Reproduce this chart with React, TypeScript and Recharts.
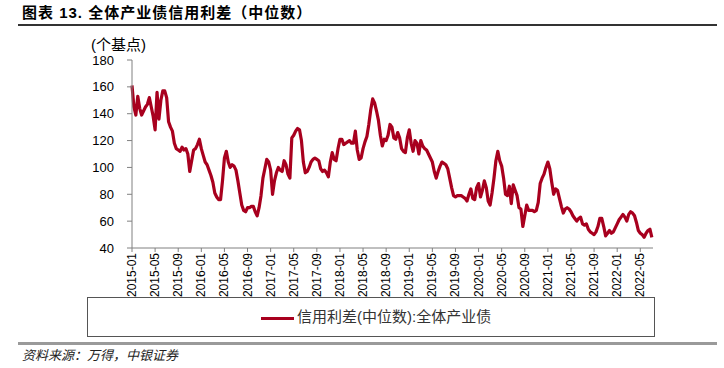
import { LineChart, Line, XAxis, YAxis } from "recharts";

const title = "图表 13. 全体产业债信用利差（中位数）";
const unitLabel = "(个基点)";
const seriesName = "信用利差(中位数):全体产业债";
const sourceNote = "资料来源：万得，中银证券";

// 2015-01 起，每月三个观测点（上、中、下旬），单位：个基点
const spreadValues = [
  161, 145, 139, 153, 144, 139, 142, 145, 147, 152, 145, 138,
  128, 156, 136, 150, 157, 157, 152, 134, 130, 127, 118, 114,
  113, 112, 115, 113, 114, 110, 97, 105, 113, 114, 117, 121,
  114, 109, 104, 102, 98, 94, 89, 81, 78, 76, 76, 90,
  107, 112, 104, 100, 102, 101, 98, 90, 81, 72, 68, 67,
  70, 70, 71, 71, 67, 64, 70, 79, 92, 99, 106, 104,
  98, 80, 90, 96, 100, 98, 97, 105, 102, 95, 92, 122,
  124, 127, 129, 128, 120, 104, 96, 97, 100, 104, 106, 107,
  106, 105, 99, 97, 98, 96, 93, 104, 111, 106, 105, 114,
  121, 121, 117, 118, 119, 120, 118, 118, 127, 113, 106, 107,
  114, 119, 123, 132, 143, 151, 148, 142, 135, 124, 116, 121,
  120, 124, 132, 130, 122, 121, 126, 122, 114, 112, 111, 122,
  128, 118, 112, 120, 118, 110, 120, 116, 114, 113, 110, 107,
  104, 97, 92, 97, 101, 104, 103, 102, 99, 92, 85, 79,
  78, 79, 79, 79, 78, 77, 75, 80, 84, 77, 76, 85,
  88, 78, 83, 90, 85, 75, 72, 81, 92, 105, 112, 105,
  101, 92, 80, 79, 86, 73, 87, 83, 79, 70, 69, 56,
  64, 72, 68, 68, 68, 67, 68, 74, 88, 92, 95, 100,
  104, 99, 89, 80, 84, 83, 77, 71, 66, 69, 70, 69,
  67, 64, 62, 60, 62, 63, 58, 57, 58, 54, 52, 51,
  50, 52, 56, 62, 62, 56, 49, 51, 53, 51, 52, 55,
  58, 61, 63, 65, 63, 60, 65, 67, 66, 64, 59, 53,
  51, 50, 48, 51, 53, 54, 48,
];

const tickLabels = [
  "2015-01", "2015-05", "2015-09", "2016-01", "2016-05", "2016-09",
  "2017-01", "2017-05", "2017-09", "2018-01", "2018-05", "2018-09",
  "2019-01", "2019-05", "2019-09", "2020-01", "2020-05", "2020-09",
  "2021-01", "2021-05", "2021-09", "2022-01", "2022-05",
];

const yTicks = [40, 60, 80, 100, 120, 140, 160, 180];

const lineColor = "#A8001E";
const axisColor = "#808080";
const latin = "'Liberation Sans', Arial, sans-serif";
const cjk = "'Liberation Sans', 'Noto Sans CJK SC', sans-serif";

const chartData = spreadValues.map((v, i) => ({ t: i / 3, spread: v }));
const monthTicks = tickLabels.map((_, i) => i * 4);

function MonthTick({ x, y, payload }: any) {
  return (
    <text
      x={x}
      y={y}
      transform={`rotate(-90, ${x}, ${y})`}
      textAnchor="end"
      dominantBaseline="central"
      fontSize={12}
      fontFamily={latin}
      fill="#000"
    >
      {tickLabels[Math.round(payload.value / 4)]}
    </text>
  );
}

export default function App() {
  return (
    <div
      style={{
        position: "absolute",
        left: 0,
        top: 0,
        width: 724,
        height: 368,
        background: "#fff",
        fontFamily: cjk,
        color: "#000",
      }}
    >
      <div
        style={{
          position: "absolute",
          left: 22,
          top: 3,
          fontSize: 15,
          lineHeight: "20px",
          fontWeight: 700,
          letterSpacing: 1,
          whiteSpace: "nowrap",
        }}
      >
        {title}
      </div>
      <div style={{ position: "absolute", left: 18, top: 24, width: 699, height: 1.5, background: "#333" }} />

      <div style={{ position: "absolute", left: 91, top: 35, fontSize: 15, lineHeight: "20px", whiteSpace: "nowrap" }}>
        {unitLabel}
      </div>

      <div style={{ position: "absolute", left: 0, top: 0 }}>
        <LineChart width={724} height={300} data={chartData} margin={{ top: 60, right: 71, left: 0, bottom: 0 }}>
          <XAxis
            dataKey="t"
            type="number"
            domain={[0, 90.2]}
            ticks={monthTicks}
            interval={0}
            height={52}
            tickSize={4}
            tickMargin={1}
            stroke={axisColor}
            tick={<MonthTick />}
          />
          <YAxis
            type="number"
            domain={[40, 180]}
            ticks={yTicks}
            width={132}
            tickSize={5}
            tickMargin={13}
            stroke={axisColor}
            tick={{ fontSize: 13, fill: "#000", fontFamily: latin }}
          />
          <Line
            type="linear"
            dataKey="spread"
            name={seriesName}
            stroke={lineColor}
            strokeWidth={3.2}
            strokeLinejoin="round"
            dot={false}
            isAnimationActive={false}
          />
        </LineChart>
      </div>

      <div
        style={{
          position: "absolute",
          left: 87,
          top: 297,
          width: 566,
          height: 38,
          border: "1px solid #555",
        }}
      >
        <div style={{ position: "absolute", left: 173, top: 18.5, width: 33, height: 3, background: lineColor }} />
        <div
          style={{
            position: "absolute",
            left: 209,
            top: 9,
            fontSize: 15,
            lineHeight: "20px",
            whiteSpace: "nowrap",
            color: "#333",
          }}
        >
          {seriesName}
        </div>
      </div>

      <div style={{ position: "absolute", left: 18, top: 341.5, width: 699, height: 3, background: "#9a9a9a" }} />
      <div
        style={{
          position: "absolute",
          left: 22,
          top: 347,
          fontSize: 13,
          lineHeight: "18px",
          fontStyle: "italic",
          whiteSpace: "nowrap",
          color: "#222",
        }}
      >
        {sourceNote}
      </div>
    </div>
  );
}
